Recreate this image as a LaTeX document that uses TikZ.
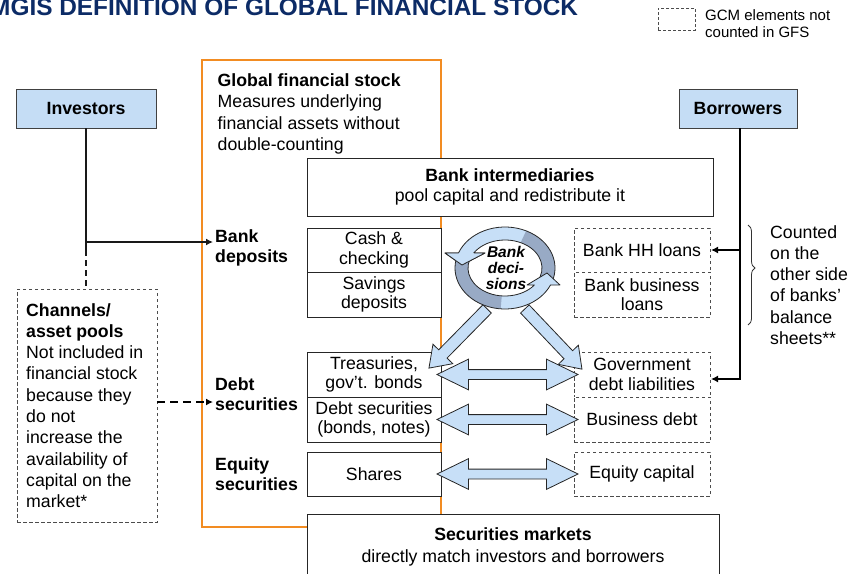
\documentclass[tikz,border=0pt]{standalone}
\usepackage{fontspec}
\setmainfont{Liberation Sans}
\usetikzlibrary{positioning}
\usetikzlibrary{calc}
\usetikzlibrary{shapes.arrows}
\usetikzlibrary{arrows.meta}
\usetikzlibrary{decorations.pathreplacing}
\definecolor{actorblue}{HTML}{C5DDF5}
\definecolor{flowblue}{HTML}{C7DFF7}
\definecolor{ringdark}{HTML}{98AAC5}
\definecolor{gfsorange}{HTML}{F28C22}
\definecolor{titlenavy}{HTML}{0C2B66}
\tikzset{
    boxactor/.style = {rectangle, draw=black!75, fill=actorblue, line width=0.9pt, minimum height=39pt, inner sep=0pt, font=\fontsize{17.7}{19.5}\selectfont\bfseries},
    boxcell/.style = {rectangle, draw=black!85, fill=white, line width=0.9pt, align=center, inner sep=0pt, outer sep=0pt, minimum width=134pt, minimum height=45pt},
    boxcellg/.style = {rectangle, draw=black!70, fill=white, line width=0.9pt, dash pattern=on 3.5pt off 2.5pt, align=center, inner sep=0pt, outer sep=0pt, minimum width=136pt, minimum height=45pt},
    boxgfs/.style = {rectangle, draw=gfsorange, line width=2.6pt, minimum width=239pt, minimum height=467pt},
    txtpara/.style = {anchor=north west, align=left, inner sep=0pt, font=\fontsize{17.7}{21.5}\selectfont},
    txtlabel/.style = {anchor=north west, align=left, inner sep=0pt, font=\fontsize{17.7}{20}\selectfont\bfseries},
    flowdbl/.style = {double arrow, draw=black!85, fill=flowblue, line width=0.8pt, inner xsep=0pt, inner ysep=4.5pt, minimum height=141pt, double arrow head extend=10.5pt, double arrow tip angle=52},
    flowsgl/.style = {single arrow, draw=black!85, fill=flowblue, line width=0.8pt, inner xsep=0pt, inner ysep=5.5pt, minimum height=83pt, single arrow head extend=8pt, single arrow tip angle=70},
    ringlite/.style = {fill=flowblue},
    ringdeep/.style = {fill=ringdark},
    ringedge/.style = {draw=black!85, line width=0.8pt, line join=round},
    edgei/.style = {-, line width=1.8pt, black!90},
    edgeid/.style = {-, line width=1.8pt, black!90, dash pattern=on 6pt off 4pt},
    edgeb/.style = {-, line width=2.6pt, black},
    edgecd/.style = {-, line width=2pt, black, dash pattern=on 8pt off 5pt}, % dashed feed
    tipn/.style = {-{Latex[length=7pt,width=7pt]}},
}

\begin{document}
\begin{tikzpicture}[x=1pt, y=1pt, font=\fontsize{17.7}{19.5}\selectfont]
\path[use as bounding box] (0,0) rectangle (851,-573);
% heading and key
\node[anchor=base west, inner sep=0pt, text=titlenavy, font=\fontsize{24.4}{28}\selectfont\bfseries] (ttl) at (-10,-15) {MGIS DEFINITION OF GLOBAL FINANCIAL STOCK};
\node[rectangle, draw=black!70, line width=0.8pt, dash pattern=on 3pt off 2pt, minimum width=37pt, minimum height=22pt] (key) at (676.5,-19) {};
\node[anchor=west, align=left, inner sep=0pt, font=\fontsize{15}{16.8}\selectfont] (keyt) at (705,-23.3) {GCM elements not\\counted in GFS};
% actors
\node[boxactor, minimum width=140pt] (inv) at (86,-108.5) {Investors};
\node[boxactor, minimum width=118pt] (bor) at (738,-108.5) {Borrowers};
% global financial stock frame
\node[boxgfs] (gfs) at (321.5,-293.5) {};
\node[txtpara] (gfst) at (217.5,-73) {\textbf{Global financial stock}\\Measures underlying\\financial assets without\\double-counting};
\node[txtlabel] (lbd) at (215,-229.8) {Bank\\deposits};
\node[txtlabel] (lds) at (215,-377) {Debt\\securities};
\node[txtlabel] (les) at (215,-457) {Equity\\securities};
%
\node[boxcell, minimum width=406pt, minimum height=58pt] (bint) at (510,-187) {\textbf{Bank intermediaries}\\pool capital and redistribute it};
\node[boxcell, minimum height=44pt] (cash) at (374,-250) {Cash \&\\checking};
\node[boxcell, below=0pt of cash] (sav) {Savings\\deposits};
\node[boxcell] (trs) at (374,-374.5) {Treasuries,\\gov’t. bonds};
\node[boxcell, below=0pt of trs] (dsec) {Debt securities\\(bonds, notes)};
\node[boxcell, minimum height=44pt] (shr) at (374,-474) {Shares};
%
\node[boxcellg, minimum height=44pt] (hh) at (642,-250) {Bank HH loans};
\node[boxcellg, below=0pt of hh] (bbl) {Bank business\\loans};
\node[boxcellg] (gov) at (642,-374.5) {Government\\debt liabilities};
\node[boxcellg, below=0pt of gov] (bdebt) {Business debt};
\node[boxcellg, minimum height=44pt] (eqc) at (642,-474) {Equity capital};
%
\node[boxcell, minimum width=412pt, minimum height=66pt, font=\fontsize{17.7}{21.5}\selectfont] (smk) at (513,-547) {\textbf{Securities markets}\\directly match investors and borrowers};
% channels
\node[boxcellg, minimum width=140pt, minimum height=233pt] (chn) at (87,-405.5) {};
\node[txtpara, font=\fontsize{17.7}{21.3}\selectfont] (chnt) at (26,-303) {\textbf{Channels/}\\\textbf{asset pools}\\Not included in\\financial stock\\because they\\do not\\increase the\\availability of\\capital on the\\market*};
\node[txtpara, font=\fontsize{17.7}{21.3}\selectfont] (cnt) at (770,-225) {Counted\\on the\\other side\\of banks'\\balance\\sheets**};
\draw[black!80, line width=0.8pt, decorate, decoration={brace, amplitude=7pt, aspect=0.43}] (748,-225) -- (748,-325);

% connectors
\coordinate (invdep) at (86,-242);
\coordinate (invcut) at (86,-250);
\draw[edgei] (inv) -- (invcut);
\draw[edgeid] (invcut) -- (invcut |- chn.north);
\draw[edgei, tipn, shorten >=2pt] (invdep) -- (invdep -| lbd.west);
\coordinate (chnout) at ($(chn.east)+(0,3.5)$);
\draw[edgecd, tipn, shorten >=2pt] (chnout) -- (chnout -| lds.west);
\coordinate (borturn) at (740,-379);
\draw[edgeb, tipn, shorten >=1pt] (borturn |- bor.south) -- (borturn) -- (borturn -| gov.east);
\draw[edgeb, tipn, shorten >=1pt] (borturn |- hh.east) -- (hh.east);

% flows
\node[flowsgl, rotate=-134.5] (dgl) at (461,-335.5) {};
\node[flowsgl, rotate=-46.5] (dgr) at (550.5,-336) {};
\node[flowdbl] (fl1) at ($(trs.east)!0.5!(gov.west)$) {};
\node[flowdbl] (fl2) at ($(dsec.east)!0.5!(bdebt.west)$) {};
\node[flowdbl] (fl3) at ($(shr.east)!0.5!(eqc.west)$) {};

% bank decisions ring
\coordinate (ring) at (505,-268);
\fill[ringlite] ($(ring)+(-20:50 and 41)$) arc[start angle=-20, end angle=158.5, x radius=50, y radius=41] -- ($(ring)+(-60,15)$) -- ($(ring)+(-43,3)$) -- ($(ring)+(-20,15)$) -- ($(ring)+(147.6:37 and 28)$) arc[start angle=147.6, end angle=-30, x radius=37, y radius=28] -- cycle;
\fill[ringdeep] ($(ring)+(-20:50 and 41)$) arc[start angle=-20, end angle=65, x radius=50, y radius=41] -- ($(ring)+(65:37 and 28)$) arc[start angle=65, end angle=-30, x radius=37, y radius=28] -- cycle;
\path[ringedge] ($(ring)+(-20:50 and 41)$) arc[start angle=-20, end angle=158.5, x radius=50, y radius=41] -- ($(ring)+(-60,15)$) -- ($(ring)+(-43,3)$) -- ($(ring)+(-20,15)$) -- ($(ring)+(147.6:37 and 28)$) arc[start angle=147.6, end angle=-30, x radius=37, y radius=28] -- cycle;
%
\fill[ringlite] ($(ring)+(161.5:50 and 41)$) arc[start angle=161.5, end angle=335.5, x radius=50, y radius=41] -- ($(ring)+(55,-17)$) -- ($(ring)+(42,-5)$) -- ($(ring)+(22,-17)$) -- ($(ring)+(322.6:37 and 28)$) arc[start angle=322.6, end angle=152.3, x radius=37, y radius=28] -- cycle;
\fill[ringdeep] ($(ring)+(161.5:50 and 41)$) arc[start angle=161.5, end angle=265, x radius=50, y radius=41] -- ($(ring)+(265:37 and 28)$) arc[start angle=265, end angle=152.3, x radius=37, y radius=28] -- cycle;
\path[ringedge] ($(ring)+(161.5:50 and 41)$) arc[start angle=161.5, end angle=335.5, x radius=50, y radius=41] -- ($(ring)+(55,-17)$) -- ($(ring)+(42,-5)$) -- ($(ring)+(22,-17)$) -- ($(ring)+(322.6:37 and 28)$) arc[start angle=322.6, end angle=152.3, x radius=37, y radius=28] -- cycle;
%
\fill[ringlite] ($(ring)+(-60,15)$) -- ($(ring)+(-43,3)$) -- ($(ring)+(-20,15)$) -- cycle;
\path[ringedge] ($(ring)+(-46.5,15)$) -- ($(ring)+(-60,15)$) -- ($(ring)+(-43,3)$) -- ($(ring)+(-20,15)$) -- ($(ring)+(-31.2,15)$);
\node[align=center, inner sep=0pt, font=\fontsize{15.5}{15.6}\selectfont\bfseries\itshape] (bdec) at (506,-268) {Bank\\deci-\\sions};
\end{tikzpicture}
\end{document}
